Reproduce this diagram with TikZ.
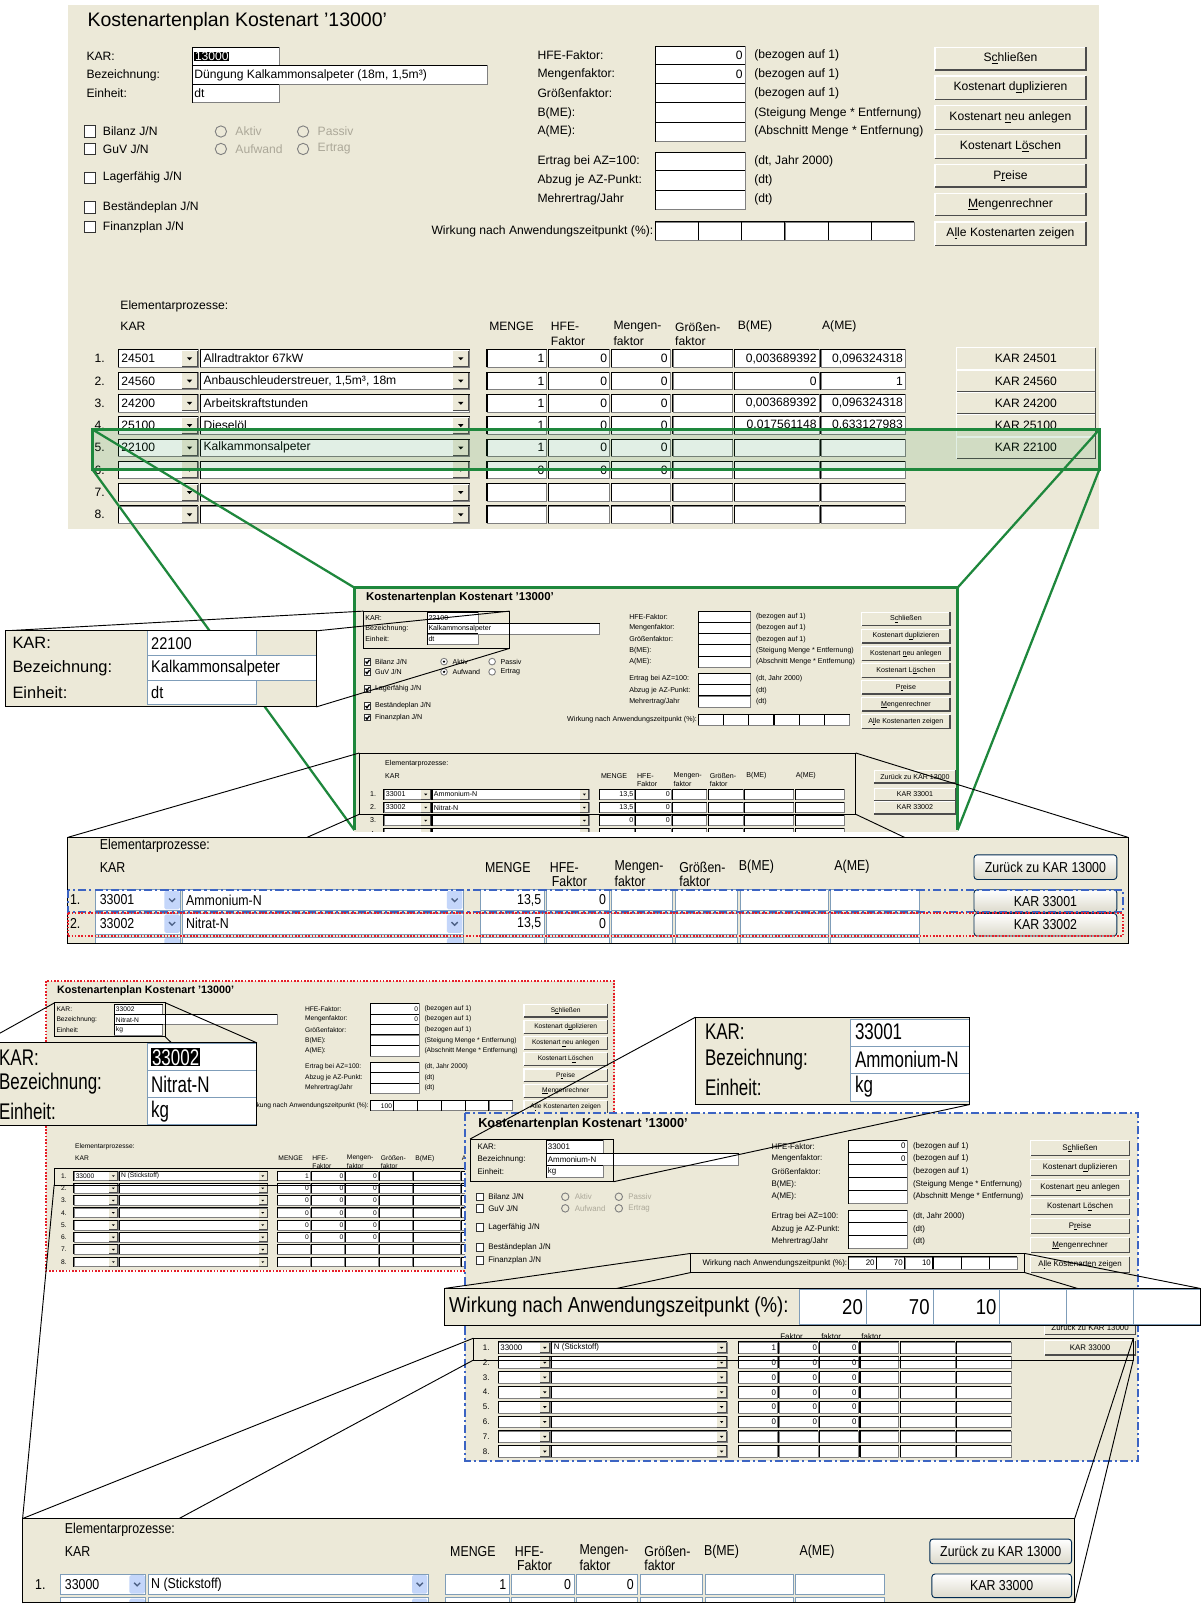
\documentclass[tikz,border=0pt]{standalone}
\usepackage{fontspec}
\setmainfont{Liberation Sans}
\newfontfamily\nsf[FakeStretch=0.86]{Liberation Sans}
\newfontfamily\csf[FakeStretch=0.75]{Liberation Sans}

\definecolor{dlgbg}{RGB}{236,233,216}
\definecolor{edge}{RGB}{128,128,128}
\definecolor{grn}{RGB}{30,135,60}
\definecolor{blu}{RGB}{60,100,195}
\definecolor{rdot}{RGB}{230,30,40}
\definecolor{xpedge}{RGB}{127,157,185}
\definecolor{xpdrop}{RGB}{196,214,250}
\definecolor{xparrow}{RGB}{77,97,133}
\definecolor{xpframe}{RGB}{0,60,116}
\definecolor{dimtext}{RGB}{172,168,153}

\newcount\nodeno
\newcommand\fs[1]{\fontsize{#1}{#1}\selectfont}
\newif\ifmarked
\newif\ifshowchk \showchktrue
\newif\ifshowhead \showheadtrue
\newcommand\titlefont{\fs{19}}

\tikzset{
  autoname/.code={\global\advance\nodeno by 1\relax
    \edef\nametmp{\noexpand\pgfkeysalso{name=t\the\nodeno}}\nametmp},
  tx/.style={autoname,anchor=west,inner sep=0pt,font=\fs{11.8}},
  tr/.style={tx,anchor=east},
  tc/.style={tx,anchor=center},
  bx/.style={autoname,anchor=west,inner sep=0pt,font=\nsf\fs{14}},
  kx/.style={autoname,anchor=west,inner sep=0pt,font=\fs{16}},
  kv/.style={autoname,anchor=west,inner sep=0pt,font=\nsf\fs{16.5}},
  cx/.style={autoname,anchor=west,inner sep=0pt,font=\csf\fs{22}},
  wx/.style={autoname,anchor=west,inner sep=0pt,font=\nsf\fs{21}},
  zl/.style={black,line width=0.9pt},
  gl/.style={grn,line width=2.2pt},
}

% ---------- classic dialog widgets ----------
\newcommand\field[4]{%
  \fill[white] (#1,#2) rectangle (#3,#4);
  \draw[edge,line width=0.7pt] (#1,#2) rectangle (#3,#4);
  \draw[black,line width=1pt] (#1,#4) -- (#1,#2) -- (#3,#2);
}
\newcommand\cbtn[5]{%
  \fill[dlgbg] (#1,#2) rectangle (#3,#4);
  \draw[white,line width=1.2pt] (#1,#4) -- (#1,#2) -- (#3,#2);
  \draw[black!70,line width=1.4pt] (#1,#4) -- (#3,#4) -- (#3,#2);
  \node[tc] at ({(#1+#3)/2},{(#2+#4)/2}) {#5};
}
\newcommand\cdrop[3]{%
  \fill[dlgbg] (#1,#3-7.5) rectangle (#2,#3+7.5);
  \draw[black!70,line width=0.9pt] (#1,#3+7.5) -- (#2,#3+7.5) -- (#2,#3-7.5);
  \fill[black] ({(#1+#2)/2-2.6},#3-1.2) -- ({(#1+#2)/2+2.6},#3-1.2) -- ({(#1+#2)/2},#3+1.6) -- cycle;
}
\newcommand\chkbox[2]{%
  \draw[black!80,fill=white,line width=0.8pt] (16,#1-5.5) rectangle (27,#1+5.5);
  \ifmarked\draw[line width=1.3pt] (18.5,#1-0.2) -- (20.8,#1+2.8) -- (25,#1-3);\fi
  \node[tx] at (34,#1) {#2};
}
\newcommand\radio[4]{%
  \ifmarked\fill[white] (#1,#2) circle (5.5);\fi
  \draw[edge,line width=0.9pt] (#1,#2) circle (5.5);
  \ifnum#4=1 \fill[black] (#1,#2) circle (2.2);\fi
  \ifmarked\node[tx] at (#1+14,#2) {#3};\else\node[tx,text=dimtext] at (#1+14,#2) {#3};\fi
}
\newcommand\rowy[1]{\pgfmathsetmacro\yc{344+(#1-1)*21.7}}

% the whole cost type dialog, local units, 1004 x 510
\newcommand\dialog{%
  \fill[dlgbg] (0,0) rectangle (1004,510);
  \node[tx,font=\titlefont] at (19,16) {Kostenartenplan Kostenart '13000'};
  \node[tx] at (18,50) {KAR:};
  \node[tx] at (18,68) {Bezeichnung:};
  \node[tx] at (18,86) {Einheit:};
  \field{121}{41}{206}{59}
  \field{121}{59}{408}{77}
  \field{121}{77}{206}{95}
  \ifshowchk
    \chkbox{123}{Bilanz J/N}
    \chkbox{140}{GuV J/N}
    \chkbox{168}{Lagerfähig J/N}
    \chkbox{197}{Beständeplan J/N}
    \chkbox{216}{Finanzplan J/N}
    \ifmarked
      \radio{149}{123}{Aktiv}{1}\radio{229}{123}{Passiv}{0}%
      \radio{149}{140}{Aufwand}{1}\radio{229}{140}{Ertrag}{0}%
    \else
      \radio{149}{123}{Aktiv}{0}\radio{229}{123}{Passiv}{0}%
      \radio{149}{140}{Aufwand}{0}\radio{229}{140}{Ertrag}{0}%
    \fi
  \fi
  \node[tx] at (457,49) {HFE-Faktor:};
  \node[tx] at (457,67) {Mengenfaktor:};
  \node[tx] at (457,86) {Größenfaktor:};
  \node[tx] at (457,105) {B(ME):};
  \node[tx] at (457,123) {A(ME):};
  \node[tx] at (457,152) {Ertrag bei AZ=100:};
  \node[tx] at (457,171) {Abzug je AZ-Punkt:};
  \node[tx] at (457,189) {Mehrertrag/Jahr};
  \field{572}{40}{659}{58}
  \field{572}{58}{659}{76}
  \field{572}{76}{659}{95}
  \field{572}{95}{659}{114}
  \field{572}{114}{659}{133}
  \field{572}{143}{659}{161}
  \field{572}{161}{659}{180}
  \field{572}{180}{659}{199}
  \node[tx] at (668,49) {(bezogen auf 1)};
  \node[tx] at (668,67) {(bezogen auf 1)};
  \node[tx] at (668,86) {(bezogen auf 1)};
  \node[tx] at (668,105) {(Steigung Menge * Entfernung)};
  \node[tx] at (668,123) {(Abschnitt Menge * Entfernung)};
  \node[tx] at (668,152) {(dt, Jahr 2000)};
  \node[tx] at (668,171) {(dt)};
  \node[tx] at (668,189) {(dt)};
  \node[tr] at (570,220) {Wirkung nach Anwendungszeitpunkt (\%):};
  \foreach \i in {0,...,5}{\field{572+\i*42}{211}{614+\i*42}{229}}
  \cbtn{844}{41}{991}{63}{S\underline{c}hließen}
  \cbtn{844}{69}{991}{92}{Kostenart d\underline{u}plizieren}
  \cbtn{844}{98}{991}{121}{Kostenart \underline{n}eu anlegen}
  \cbtn{844}{126}{991}{149}{Kostenart L\underline{ö}schen}
  \cbtn{844}{155}{991}{177}{P\underline{r}eise}
  \cbtn{844}{183}{991}{205}{\underline{M}engenrechner}
  \cbtn{844}{211}{991}{234}{A\underline{l}le Kostenarten zeigen}
  \ifshowhead
    \node[tx] at (51,293) {Elementarprozesse:};
    \node[tx] at (51,313) {KAR};
    \node[tx] at (410,313) {MENGE};
    \node[tx] at (470,313) {HFE-};
    \node[tx] at (531,313) {Mengen-};
    \node[tx] at (591,313) {Größen-};
    \node[tx] at (652,313) {B(ME)};
    \node[tx] at (734,313) {A(ME)};
  \fi
  \node[tx] at (470,327) {Faktor};
  \node[tx] at (531,327) {faktor};
  \node[tx] at (591,327) {faktor};
  \foreach \r in {1,...,8}{%
    \rowy{\r}
    \node[tx] at (26,\yc) {\r.};
    \field{49}{\yc-8.5}{127}{\yc+8.5}\cdrop{111}{126}{\yc}
    \field{129}{\yc-8.5}{391}{\yc+8.5}\cdrop{375}{390}{\yc}
    \field{408}{\yc-8.5}{466}{\yc+8.5}
    \field{468}{\yc-8.5}{527}{\yc+8.5}
    \field{529}{\yc-8.5}{586}{\yc+8.5}
    \field{589}{\yc-8.5}{647}{\yc+8.5}
    \field{649}{\yc-8.5}{731}{\yc+8.5}
    \field{733}{\yc-8.5}{815}{\yc+8.5}
  }%
}
\newcommand\karvals[4]{%
  \ifnum#4=1 \node[tx,fill=black,text=white,inner sep=0.6pt] at (123,50) {#1};%
  \else\node[tx] at (123,50) {#1};\fi
  \node[tx] at (123,68) {#2};
  \node[tx] at (123,86) {#3};
}
\newcommand\rowvals[8]{%
  \rowy{#1}%
  \node[tx] at (52,\yc) {#2};
  \node[tx] at (132,\yc) {#3};
  \node[tr] at (464,\yc) {#4};
  \node[tr] at (525,\yc) {#5};
  \node[tr] at (584,\yc) {#6};
  \node[tr] at (729,\yc) {#7};
  \node[tr] at (813,\yc) {#8};
}
\newcommand\rowbtn[2]{\rowy{#1}\cbtn{865}{\yc-10.5}{1000}{\yc+10.5}{#2}}

% ---------- newer-style widgets of the magnified strips ----------
\newcommand\xfield[4]{%
  \fill[white] (#1,#2) rectangle (#3,#4);
  \draw[xpedge,line width=0.8pt] (#1,#2) rectangle (#3,#4);
}
\newcommand\xdrop[4]{%
  \fill[xpdrop,rounded corners=1.5pt] (#1,#2) rectangle (#3,#4);
  \draw[xparrow,line width=1.3pt] ({(#1+#3)/2-3},{(#2+#4)/2-1.5}) -- ({(#1+#3)/2},{(#2+#4)/2+1.5}) -- ({(#1+#3)/2+3},{(#2+#4)/2-1.5});
}
\newcommand\xbtn[5]{%
  \draw[xpframe!70!black,line width=0.9pt,rounded corners=3pt,top color=white,bottom color=dlgbg!85!gray] (#1,#2) rectangle (#3,#4);
  \node[bx,anchor=center] at ({(#1+#3)/2},{(#2+#4)/2}) {#5};
}
\newcommand\xrow[6]{%
  \node[bx] at (68,#1) {#2};
  \xfield{93}{#1-10}{176}{#1+10}\xdrop{160}{#1-9}{175}{#1+9}
  \node[bx] at (97,#1) {#3};
  \xfield{178}{#1-10}{451}{#1+10}\xdrop{435}{#1-9}{450}{#1+9}
  \node[bx] at (181,#1) {#4};
  \xfield{468}{#1-10}{530}{#1+10}\node[bx,anchor=east] at (527,#1) {#5};
  \xfield{532}{#1-10}{593}{#1+10}\node[bx,anchor=east] at (590,#1) {#6};
  \xfield{595}{#1-10}{654}{#1+10}
  \xfield{657}{#1-10}{718}{#1+10}
  \xfield{721}{#1-10}{806}{#1+10}
  \xfield{808}{#1-10}{895}{#1+10}
}
\newcommand\striphead[2]{%
  \node[bx] at (97,823) {Elementarprozesse:};
  \node[bx] at (97,844) {KAR};
  \node[bx] at (472,844) {MENGE};
  \node[bx] at (535,844) {HFE-};
  \node[bx] at (537,858) {Faktor};
  \node[bx] at (598,844) {Mengen-};
  \node[bx] at (598,858) {faktor};
  \node[bx] at (661,844) {Größen-};
  \node[bx] at (661,858) {faktor};
  \node[bx] at (719,844) {B(ME)};
  \node[bx] at (812,844) {A(ME)};
  \xbtn{#1}{832}{#2}{856}{Zurück zu KAR 13000}
}

\begin{document}
\begin{tikzpicture}[x=1pt,y=-1pt]
\useasboundingbox (0,0) rectangle (1171,1568);
\fill[white] (0,0) rectangle (1171,1568);

% ===== main dialog =====
\begin{scope}[shift={(66,5)}]
  \markedfalse
  \dialog
  \karvals{13000}{Düngung Kalkammonsalpeter (18m, 1,5m³)}{dt}{1}
  \node[tr] at (657,49) {0};
  \node[tr] at (657,67) {0};
  \rowvals{1}{24501}{Allradtraktor 67kW}{1}{0}{0}{0,003689392}{0,096324318}
  \rowvals{2}{24560}{Anbauschleuderstreuer, 1,5m³, 18m}{1}{0}{0}{0}{1}
  \rowvals{3}{24200}{Arbeitskraftstunden}{1}{0}{0}{0,003689392}{0,096324318}
  \rowvals{4}{25100}{Dieselöl}{1}{0}{0}{0,017561148}{0,633127983}
  \rowvals{5}{22100}{Kalkammonsalpeter}{1}{0}{0}{}{}
  \rowvals{6}{}{}{0}{0}{0}{}{}
  \rowbtn{1}{KAR 24501}
  \rowbtn{2}{KAR 24560}
  \rowbtn{3}{KAR 24200}
  \rowbtn{4}{KAR 25100}
  \rowbtn{5}{KAR 22100}
\end{scope}

% highlighted row 5 and its links to the detail dialog
\coordinate (hlTL) at (90,418);
\coordinate (hlTR) at (1070,418);
\coordinate (hlBL) at (90,457);
\coordinate (hlBR) at (1070,457);
\coordinate (mfTL) at (345,572);
\coordinate (mfTR) at (932,572);
\coordinate (mfBL) at (345,808);
\coordinate (mfBR) at (932,808);
\fill[grn,opacity=0.13] (hlTL) rectangle (hlBR);
\draw[grn,line width=2.5pt] (hlTL) rectangle (hlBR);
\draw[gl] (hlTL) -- (mfTL);
\draw[gl] (hlBL) -- (mfBL);
\draw[gl] (hlTR) -- (mfTR);
\draw[gl] (hlBR) -- (mfBR);

% smaller copies carry a heavier title
\renewcommand\titlefont{\bfseries\fs{19}}

% ===== dialog of KAR 22100 =====
\begin{scope}[shift={(345,572)},scale=0.585,transform shape]
  \clip (0,0) rectangle (1004,406);
  \markedtrue
  \dialog
  \karvals{22100}{Kalkammonsalpeter}{dt}{0}
  \rowvals{1}{33001}{Ammonium-N}{13,5}{0}{}{}{}
  \rowvals{2}{33002}{Nitrat-N}{13,5}{0}{}{}{}
  \rowvals{3}{}{}{0}{0}{}{}{}
  \cbtn{865}{304}{1000}{325}{Zurück zu KAR 13000}
  \rowbtn{1}{KAR 33001}
  \rowbtn{2}{KAR 33002}
  \draw[zl] (15,39) rectangle (258,101);
  \draw[zl] (8,275) rectangle (834,377);
  \coordinate (mkTL) at (15,39);
  \coordinate (mkTR) at (258,39);
  \coordinate (mkBR) at (258,101);
  \coordinate (meTL) at (8,275);
  \coordinate (meTR) at (834,275);
  \coordinate (meBL) at (8,377);
  \coordinate (meBR) at (834,377);
\end{scope}
\draw[grn,line width=2.5pt] (mfBL) -- (mfTL) -- (mfTR) -- (mfBR);

% magnified KAR fields of KAR 22100
\coordinate (kbA) at (5,614);
\coordinate (kbB) at (308,614);
\coordinate (kbC) at (308,688);
\draw[zl] (mkTL) -- (kbA);
\draw[zl] (mkTR) -- (kbB);
\draw[zl] (mkBR) -- (kbC);
\fill[dlgbg] (kbA) rectangle (kbC);
\xfield{143}{614}{250}{638}
\xfield{143}{638}{308}{662}
\xfield{143}{662}{250}{686}
\node[kx] at (12,626) {KAR:};
\node[kx] at (12,650) {Bezeichnung:};
\node[kx] at (12,674) {Einheit:};
\node[kv] at (147,626) {22100};
\node[kv] at (147,650) {Kalkammonsalpeter};
\node[kv] at (147,674) {dt};
\draw[black,line width=1pt] (kbA) rectangle (kbC);

% magnified rows of KAR 22100
\coordinate (mbTL) at (66,815);
\coordinate (mbTR) at (1098,815);
\coordinate (mbBL) at (66,918);
\coordinate (mbBR) at (1098,918);
\draw[zl] (meTL) -- (mbTL);
\draw[zl] (meTR) -- (mbTR);
\draw[zl] (meBL) -- (mbBL);
\draw[zl] (meBR) -- (mbBR);
\fill[dlgbg] (mbTL) rectangle (mbBR);
\begin{scope}
  \clip (mbTL) rectangle (mbBR);
  \striphead{948}{1087}
  \xrow{876}{1.}{33001}{Ammonium-N}{13,5}{0}
  \xrow{899}{2.}{33002}{Nitrat-N}{13,5}{0}
  \xrow{922}{}{}{}{}{}
  \xbtn{948}{866}{1087}{888}{KAR 33001}
  \xbtn{948}{889}{1087}{911}{KAR 33002}
\end{scope}
\draw[black,line width=1pt] (mbTL) rectangle (mbBR);
\draw[blu,line width=2pt,dash pattern=on 8pt off 3pt on 2pt off 3pt] (66,866) rectangle (1093,888);
\draw[rdot,line width=2pt,dash pattern=on 1.6pt off 1.6pt] (66,889) rectangle (1093,911);

% ===== dialog of KAR 33002 =====
\begin{scope}[shift={(45,955)},scale=0.551,transform shape]
  \markedfalse
  \showchkfalse
  \dialog
  \karvals{33002}{Nitrat-N}{kg}{0}
  \node[tr] at (657,49) {0};
  \node[tr] at (657,67) {0};
  \node[tr] at (611,220) {100};
  \rowvals{1}{33000}{N (Stickstoff)}{1}{0}{0}{}{}
  \foreach \q in {2,...,6}{\rowvals{\q}{}{}{0}{0}{0}{}{}}
  \cbtn{865}{304}{1000}{325}{Zurück zu KAR 13000}
  \rowbtn{1}{KAR 33000}
  \draw[zl] (15,38) rectangle (210,98);
  \draw[zl] (14,331) rectangle (780,360);
  \coordinate (lkTL) at (15,38);
  \coordinate (lkTR) at (210,38);
  \coordinate (lkBR) at (210,98);
  \coordinate (lrBL) at (14,360);
\end{scope}
\draw[rdot,line width=2pt,dash pattern=on 1.6pt off 1.6pt] (45,955) rectangle (598,1237);

% magnified KAR fields of KAR 33002
\coordinate (llA) at (-17,1015);
\coordinate (llB) at (250,1015);
\coordinate (llC) at (250,1095);
\draw[zl] (lkTL) -- (llA);
\draw[zl] (lkTR) -- (llB);
\draw[zl] (lkBR) -- (llC);
\fill[dlgbg] (llA) rectangle (llC);
\xfield{143}{1016}{250}{1042}
\xfield{143}{1042}{250}{1068}
\xfield{143}{1068}{250}{1094}
\node[cx] at (-1,1029) {KAR:};
\node[cx] at (-1,1055) {Bezeichnung:};
\node[cx] at (-1,1082) {Einheit:};
\node[cx,fill=black,text=white,inner sep=0.8pt] at (147,1029) {33002};
\node[cx] at (147,1055) {Nitrat-N};
\node[cx] at (147,1082) {kg};
\draw[black,line width=1pt] (llA) rectangle (llC);

% ===== dialog of KAR 33001 =====
\begin{scope}[shift={(453,1083)},xscale=0.652,yscale=0.665,transform shape]
  \markedfalse
  \showchktrue
  \showheadfalse
  \dialog
  \karvals{33001}{Ammonium-N}{kg}{0}
  \node[tr] at (657,49) {0};
  \node[tr] at (657,67) {0};
  \node[tr] at (611,220) {20};
  \node[tr] at (653,220) {70};
  \node[tr] at (695,220) {10};
  \rowvals{1}{33000}{N (Stickstoff)}{1}{0}{0}{}{}
  \foreach \q in {2,...,6}{\rowvals{\q}{}{}{0}{0}{0}{}{}}
  \cbtn{865}{304}{1000}{325}{Zurück zu KAR 13000}
  \rowbtn{1}{KAR 33000}
  \draw[zl] (7,38.5) rectangle (221,101);
  \draw[zl] (336,206) rectangle (835,234);
  \draw[zl] (12,330) rectangle (997,362);
  \coordinate (rkTL) at (7,38.5);
  \coordinate (rkBR) at (221,101);
  \coordinate (rwTL) at (336,206);
  \coordinate (rwTR) at (835,206);
  \coordinate (rwBL) at (336,234);
  \coordinate (rwBR) at (835,234);
  \coordinate (rrTL) at (12,330);
  \coordinate (rrTR) at (997,330);
  \coordinate (rrBL) at (12,362);
  \coordinate (rrBR) at (997,362);
\end{scope}
\draw[blu,line width=2pt,dash pattern=on 8pt off 3pt on 2pt off 3pt] (453,1083) rectangle (1108,1422);

% magnified KAR fields of KAR 33001
\coordinate (rbA) at (677,990);
\coordinate (rbC) at (944,1075);
\draw[zl] (rkTL) -- (rbA);
\draw[zl] (rkBR) -- (rbC);
\fill[dlgbg] (rbA) rectangle (rbC);
\xfield{828}{992}{944}{1018}
\xfield{828}{1018}{944}{1045}
\xfield{828}{1045}{944}{1072}
\node[cx] at (686,1004) {KAR:};
\node[cx] at (686,1031) {Bezeichnung:};
\node[cx] at (686,1058) {Einheit:};
\node[cx] at (832,1004) {33001};
\node[cx] at (832,1031) {Ammonium-N};
\node[cx] at (832,1058) {kg};
\draw[black,line width=1pt] (rbA) rectangle (rbC);

% magnified effect-by-time fields
\coordinate (wbTL) at (433,1254);
\coordinate (wbTR) at (1168,1254);
\coordinate (wbBL) at (433,1290);
\coordinate (wbBR) at (1168,1290);
\draw[zl] (rwTL) -- (wbTL);
\draw[zl] (rwBL) -- (wbBL);
\draw[zl] (rwTR) -- (wbTR);
\draw[zl] (rwBR) -- (wbBR);
\fill[dlgbg] (wbTL) rectangle (wbBR);
\node[wx] at (437,1272) {Wirkung nach Anwendungszeitpunkt (\%):};
\foreach \i in {0,...,5}{\xfield{778+\i*65}{1255}{843+\i*65}{1289}}
\node[wx,anchor=east] at (840,1272) {20};
\node[wx,anchor=east] at (905,1272) {70};
\node[wx,anchor=east] at (970,1272) {10};
\draw[black,line width=1pt] (wbTL) rectangle (wbBR);

% magnified first row of KAR 33001 / 33002
\coordinate (bbTL) at (22,1478);
\coordinate (bbTR) at (1046,1478);
\coordinate (bbBL) at (22,1560);
\coordinate (bbBR) at (1046,1560);
\draw[zl] (lrBL) -- (bbTL);
\draw[zl] (rrTL) -- (bbTL);
\draw[zl] (rrBL) -- (bbBL);
\draw[zl] (rrTR) -- (bbTR);
\draw[zl] (rrBR) -- (bbBR);
\fill[dlgbg] (bbTL) rectangle (bbBR);
\begin{scope}
  \clip (bbTL) rectangle (bbBR);
  \begin{scope}[shift={(-34,666)}]
    \striphead{939}{1077}
    \xrow{876}{1.}{33000}{N (Stickstoff)}{1}{0}
    \node[bx,anchor=east] at (651,876) {0};
    \xrow{899}{}{}{}{}{}
    \xbtn{941}{866}{1077}{889}{KAR 33000}
  \end{scope}
\end{scope}
\draw[black,line width=1pt] (bbTL) rectangle (bbBR);
\end{tikzpicture}
\end{document}
